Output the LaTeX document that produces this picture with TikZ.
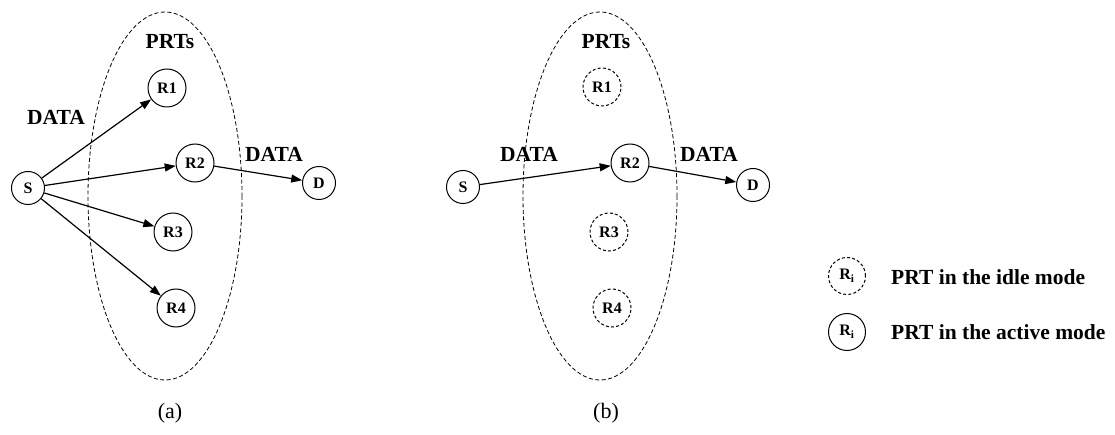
\documentclass[tikz,border=0pt]{standalone}
\usepackage{fontspec}
\setmainfont{Liberation Serif}
\usetikzlibrary{arrows.meta}
\begin{document}
\begin{tikzpicture}[x=1pt,y=-1pt,
  act/.style={circle,draw,line width=1pt,inner sep=0pt,minimum size=38pt,font=\fontsize{16}{16}\selectfont\bfseries},
  small/.style={act,minimum size=33pt},
  idl/.style={act,dash pattern=on 3pt off 2.2pt},
  lbl/.style={font=\fontsize{21.5}{21.5}\selectfont\bfseries,inner sep=0pt},
  captext/.style={font=\fontsize{22}{22}\selectfont,inner sep=0pt},
  arr/.style={line width=1.2pt,-{Triangle[length=11pt,width=8pt]}},
  grp/.style={line width=0.8pt,dash pattern=on 4pt off 2.5pt}
]
\useasboundingbox (0,0) rectangle (1115,435);
% panel (a)
\draw[grp] (165,196) ellipse [x radius=77, y radius=184];
\node[small] (aS) at (28,188) {S};
\node[act] (aR1) at (167,88) {R1};
\node[act] (aR2) at (195,163) {R2};
\node[act] (aR3) at (173,232) {R3};
\node[act] (aR4) at (176,308) {R4};
\node[small] (aD) at (319,183) {D};
\draw[arr] (aS) -- (aR1);
\draw[arr] (aS) -- (aR2);
\draw[arr] (aS) -- (aR3);
\draw[arr] (aS) -- (aR4);
\draw[arr] (aR2) -- (aD);
\node[lbl] (aPRT) at (170,42) {PRTs};
\node[lbl] (aL1) at (56,117) {DATA};
\node[lbl] (aL2) at (274,154) {DATA};
\node[captext] (acap) at (170,413) {(a)};
% panel (b)
\draw[grp] (600,196) ellipse [x radius=77, y radius=184];
\node[small] (bS) at (463,187) {S};
\node[idl] (bR1) at (602,87) {R1};
\node[act] (bR2) at (630,163) {R2};
\node[idl] (bR3) at (609,232) {R3};
\node[idl] (bR4) at (612,308) {R4};
\node[small] (bD) at (753,185) {D};
\draw[arr] (bS) -- (bR2);
\draw[arr] (bR2) -- (bD);
\node[lbl] (bPRT) at (606,42) {PRTs};
\node[lbl] (bL1) at (529,154) {DATA};
\node[lbl] (bL2) at (709,154) {DATA};
\node[captext] (bcap) at (606,413) {(b)};
% legend
\node[idl,minimum size=37pt] (kI) at (847,276) {R$_{\mathbf{i}}$};
\node[act,minimum size=37pt] (kA) at (847,332) {R$_{\mathbf{i}}$};
\node[lbl,anchor=west] (tI) at (891,277) {PRT in the idle mode};
\node[lbl,anchor=west] (tA) at (891,332) {PRT in the active mode};
\end{tikzpicture}
\end{document}
